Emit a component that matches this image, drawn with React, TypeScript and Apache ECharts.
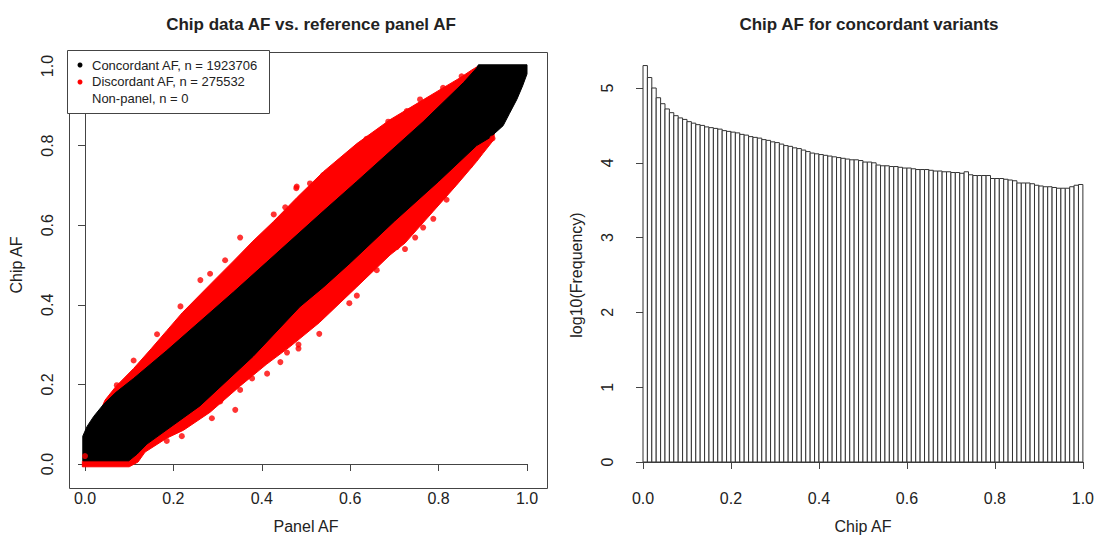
import React, { useEffect, useRef } from "react";
import * as echarts from "echarts";

// ---------- data ----------
// Left panel: envelopes (data coordinates) of the dense point clouds
const discordantOutline: number[][] = [
  [-0.006, -0.007], [-0.006, 0.006], [0.01, 0.03], [0.03, 0.12], [0.045, 0.16], [0.07, 0.195],
  [0.11, 0.24], [0.15, 0.29], [0.185, 0.335], [0.22, 0.38], [0.26, 0.425], [0.3, 0.47],
  [0.336, 0.51], [0.38, 0.56], [0.427, 0.61], [0.48, 0.67], [0.54, 0.735], [0.615, 0.805],
  [0.69, 0.865], [0.765, 0.915], [0.81, 0.945], [0.848, 0.97], [0.875, 0.99], [0.89, 1.0],
  [0.93, 0.9], [0.925, 0.815], [0.9, 0.78], [0.886, 0.76], [0.84, 0.7], [0.788, 0.635],
  [0.724, 0.555], [0.69, 0.525], [0.615, 0.445], [0.53, 0.355], [0.464, 0.295], [0.41, 0.25],
  [0.35, 0.195], [0.283, 0.13], [0.223, 0.085], [0.185, 0.065], [0.136, 0.03], [0.12, 0.005],
  [0.1, -0.007],
];
const concordantOutline: number[][] = [
  [-0.005, 0.008], [-0.005, 0.07], [0.005, 0.095], [0.02, 0.12], [0.042, 0.15], [0.07, 0.18],
  [0.11, 0.215], [0.185, 0.285], [0.26, 0.358], [0.336, 0.432], [0.41, 0.506], [0.464, 0.56],
  [0.54, 0.636], [0.615, 0.71], [0.69, 0.785], [0.765, 0.86], [0.856, 0.958], [0.886, 0.995],
  [0.89, 1.003], [1.0, 1.003], [1.0, 0.98], [0.99, 0.95], [0.977, 0.916], [0.96, 0.88],
  [0.946, 0.85], [0.916, 0.82], [0.886, 0.8], [0.8, 0.71], [0.7, 0.61], [0.6, 0.505],
  [0.54, 0.445], [0.486, 0.395], [0.38, 0.27], [0.26, 0.146], [0.14, 0.05], [0.118, 0.025],
  [0.099, 0.008],
];
const discordantOutliers: number[][] = [
  [0.261, 0.462], [0.283, 0.478], [0.34, 0.136], [0.287, 0.115], [0.483, 0.3], [0.457, 0.28],
  [0.378, 0.215], [0.852, 0.974], [0.81, 0.945], [0.686, 0.86], [0.577, 0.759], [0.479, 0.697],
  [0.509, 0.705], [0.922, 0.818], [0.788, 0.616], [0.724, 0.54], [0.747, 0.569], [0.53, 0.327],
  [0.615, 0.423], [0.598, 0.404], [0.483, 0.29], [0.351, 0.569], [0.453, 0.645], [0.478, 0.693],
  [0.427, 0.627], [0.0, 0.02], [0.728, 0.887], [0.758, 0.916], [0.637, 0.817], [0.539, 0.726],
  [0.871, 0.75], [0.818, 0.664], [0.765, 0.594], [0.705, 0.545], [0.66, 0.487], [0.216, 0.396],
  [0.163, 0.326], [0.11, 0.26], [0.072, 0.198], [0.317, 0.512], [0.442, 0.256], [0.412, 0.227],
  [0.351, 0.186], [0.306, 0.157], [0.219, 0.07], [0.185, 0.058],
];
const legendLabels = ["Concordant AF, n = 1923706", "Discordant AF, n = 275532", "Non-panel, n = 0"];

// Right panel: histogram of chip AF (100 bins of width 0.01), log10 counts
const histLog10Freq: number[] = [
  5.3, 5.14, 5.0, 4.87, 4.79, 4.72, 4.67, 4.63, 4.6, 4.58,
  4.55, 4.53, 4.51, 4.5, 4.48, 4.47, 4.46, 4.45, 4.43, 4.42,
  4.41, 4.4, 4.38, 4.37, 4.35, 4.34, 4.33, 4.31, 4.3, 4.28,
  4.27, 4.25, 4.23, 4.22, 4.2, 4.19, 4.17, 4.15, 4.13, 4.12,
  4.11, 4.1, 4.09, 4.08, 4.07, 4.06, 4.05, 4.04, 4.04, 4.03,
  4.01, 4.01, 4.0, 3.97, 3.96, 3.96, 3.95, 3.95, 3.94, 3.93,
  3.93, 3.92, 3.91, 3.91, 3.91, 3.9, 3.89, 3.89, 3.88, 3.88,
  3.87, 3.87, 3.86, 3.88, 3.84, 3.83, 3.83, 3.83, 3.83, 3.79,
  3.79, 3.79, 3.78, 3.77, 3.76, 3.73, 3.73, 3.73, 3.72, 3.7,
  3.69, 3.68, 3.68, 3.67, 3.66, 3.66, 3.66, 3.68, 3.7, 3.71,
];
const histBinWidth = 0.01;
const afTicks = [0, 0.2, 0.4, 0.6, 0.8, 1.0];
const freqTicks = [0, 1, 2, 3, 4, 5];

const FONT = "'Liberation Sans', Arial, Helvetica, sans-serif";
const INK = "#222";
const LINE = "#444";

function polygonSeries(name: string, outline: number[][], color: string, z: number) {
  return {
    type: "custom",
    name,
    xAxisIndex: 0,
    yAxisIndex: 0,
    z,
    silent: true,
    data: outline,
    encode: { x: 0, y: 1 },
    renderItem: (params: any, api: any) => {
      if (params.dataIndex !== 0) return { type: "group", children: [] };
      const pts = outline.map((p) => api.coord(p));
      return {
        type: "polygon",
        shape: { points: pts },
        style: { fill: color, stroke: color, lineWidth: 1 },
      };
    },
  };
}

export default function App() {
  const ref = useRef<HTMLDivElement>(null);
  useEffect(() => {
    if (!ref.current) return;
    const chart = echarts.init(ref.current, undefined, { renderer: "svg" });
    const histData = histLog10Freq.map((v, i) => [i * histBinWidth, (i + 1) * histBinWidth, v]);
    const tickFmt1 = (v: number) => v.toFixed(1);
    const axisCommon = {
      type: "value",
      splitLine: { show: false },
      axisLine: { show: true, lineStyle: { color: LINE, width: 1 } },
      axisTick: { show: true, length: 7, lineStyle: { color: LINE, width: 1 } },
      nameLocation: "middle",
      nameTextStyle: { fontSize: 16, color: INK, fontFamily: FONT },
    };
    chart.setOption({
      animation: false,
      backgroundColor: "#fff",
      textStyle: { fontFamily: FONT },
      title: [
        {
          text: "Chip data AF vs. reference panel AF",
          left: 306, top: 11, textAlign: "center",
          textStyle: { fontSize: 17, fontWeight: "bold", color: INK, fontFamily: FONT },
        },
        {
          text: "Chip AF for concordant variants",
          left: 864, top: 11, textAlign: "center",
          textStyle: { fontSize: 17, fontWeight: "bold", color: INK, fontFamily: FONT },
        },
      ],
      grid: [
        { left: 85, width: 442, top: 66, height: 404 },
        { left: 643, width: 442, top: 88, height: 381 },
      ],
      xAxis: [
        {
          ...axisCommon, gridIndex: 0, min: afTicks[0], max: afTicks[afTicks.length - 1], interval: 0.2,
          offset: 16, name: "Panel AF", nameGap: 38,
          axisLabel: { formatter: tickFmt1, fontSize: 16, color: INK, margin: 10, showMinLabel: true, showMaxLabel: true },
        },
        {
          ...axisCommon, gridIndex: 1, min: afTicks[0], max: afTicks[afTicks.length - 1], interval: 0.2,
          offset: 18, name: "Chip AF", nameGap: 38,
          axisLabel: { formatter: tickFmt1, fontSize: 16, color: INK, margin: 10, showMinLabel: true, showMaxLabel: true },
        },
      ],
      yAxis: [
        {
          ...axisCommon, gridIndex: 0, min: afTicks[0], max: afTicks[afTicks.length - 1], interval: 0.2,
          offset: 18, name: "Chip AF", nameGap: 43,
          axisLabel: { formatter: tickFmt1, fontSize: 16, color: INK, margin: 12, rotate: 90, showMinLabel: true, showMaxLabel: true },
        },
        {
          ...axisCommon, gridIndex: 1, min: freqTicks[0], max: freqTicks[freqTicks.length - 1], interval: 1,
          offset: 16, name: "log10(Frequency)", nameGap: 43,
          axisLabel: { formatter: (v: number) => String(v), fontSize: 16, color: INK, margin: 12, rotate: 90, showMinLabel: true, showMaxLabel: true },
        },
      ],
      series: [
        polygonSeries("Discordant AF", discordantOutline, "#ff0000", 2),
        polygonSeries("Concordant AF", concordantOutline, "#000000", 3),
        {
          type: "scatter", name: "Discordant outliers", xAxisIndex: 0, yAxisIndex: 0, z: 4,
          data: discordantOutliers, symbol: "circle", symbolSize: 6,
          itemStyle: { color: "#ff0000" }, silent: true,
        },
        {
          type: "custom", name: "Chip AF histogram", xAxisIndex: 1, yAxisIndex: 1,
          data: histData, encode: { x: [0, 1], y: 2 }, silent: true,
          renderItem: (params: any, api: any) => {
            const p0 = api.coord([api.value(0), 0]);
            const p1 = api.coord([api.value(1), api.value(2)]);
            return {
              type: "rect",
              shape: { x: p0[0], y: p1[1], width: p1[0] - p0[0], height: p0[1] - p1[1] },
              style: { fill: "#fff", stroke: "#333", lineWidth: 1 },
            };
          },
        },
      ],
      graphic: [
        {
          type: "rect", left: 67, top: 50, z: 10, silent: true,
          shape: { width: 478, height: 436 },
          style: { fill: "none", stroke: LINE, lineWidth: 1 },
        },
        {
          type: "rect", left: 67, top: 50, z: 11, silent: true,
          shape: { width: 202, height: 63 },
          style: { fill: "#fff", stroke: LINE, lineWidth: 1 },
        },
        { type: "circle", z: 12, shape: { cx: 80, cy: 65, r: 2.5 }, style: { fill: "#000" } },
        { type: "circle", z: 12, shape: { cx: 80, cy: 82, r: 2.5 }, style: { fill: "#ff0000" } },
        ...legendLabels.map((t, i) => ({
          type: "text", z: 12, x: 92, y: 65 + i * 16.5,
          style: { text: t, font: `13px ${FONT}`, fill: INK, textVerticalAlign: "middle", verticalAlign: "middle" },
        })),
      ],
    });
    return () => chart.dispose();
  }, []);
  return <div ref={ref} style={{ width: 1097, height: 539, position: "absolute", left: 0, top: 0 }} />;
}
